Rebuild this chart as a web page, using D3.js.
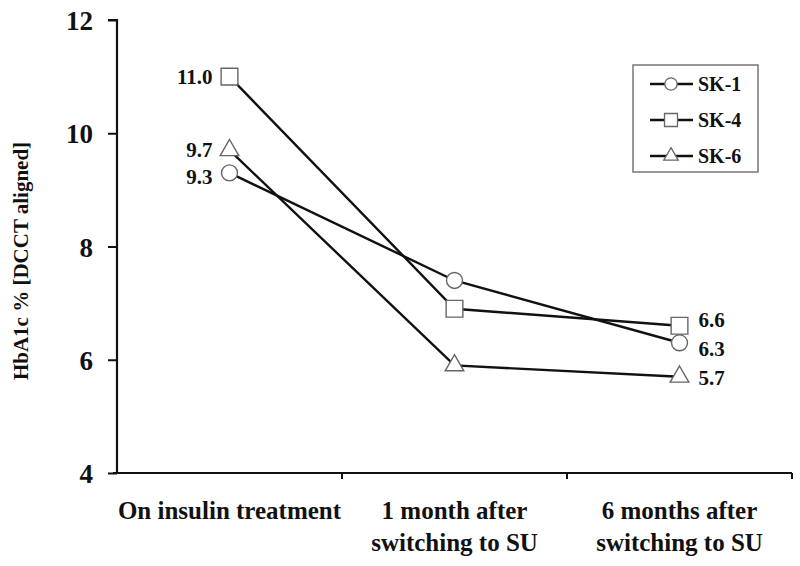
<!DOCTYPE html>
<html><head><meta charset="utf-8">
<script src="https://cdn.jsdelivr.net/npm/d3@7"></script>
<style>body{margin:0;background:#fff}svg{display:block}text{font-family:"Liberation Serif","Times New Roman",serif;font-weight:bold;fill:#111}</style>
</head><body><svg id="c" width="800" height="566"></svg>
<script>
const categories = ["On insulin treatment", "1 month after|switching to SU", "6 months after|switching to SU"];
const seriesNames = ["SK-1", "SK-4", "SK-6"];
const sk1 = [9.3, 7.4, 6.3];
const sk4 = [11.0, 6.9, 6.6];
const sk6 = [9.7, 5.9, 5.7];
const yTicks = [4, 6, 8, 10, 12];
const labelFirst = ["9.3", "11.0", "9.7"];
const labelLast = ["6.3", "6.6", "5.7"];
const series = [
  {name: seriesNames[0], values: sk1, sym: d3.symbolCircle, size: 200},
  {name: seriesNames[1], values: sk4, sym: d3.symbolSquare, size: 280},
  {name: seriesNames[2], values: sk6, sym: d3.symbolTriangle, size: 150}
];

const svg = d3.select("#c");
const x = d3.scaleBand().domain(categories).range([117, 792]);
const y = d3.scaleLinear().domain([4, 12]).range([473, 20]);
const cx = c => x(c) + x.bandwidth() / 2;

// axes
const yAxis = svg.append("g").attr("transform", "translate(117,0)")
  .call(d3.axisLeft(y).tickValues(yTicks).tickSize(9).tickPadding(15).tickFormat(d3.format("d")));
yAxis.select(".domain").attr("stroke", "#111").attr("stroke-width", 2.2).attr("d", "M-9,20H0V473");
yAxis.selectAll(".tick line").attr("stroke", "#111").attr("stroke-width", 2);
yAxis.selectAll(".tick text").style("font-size", "27px").attr("dy", "0.36em");

const xAxis = svg.append("g").attr("transform", "translate(0,473)");
xAxis.append("line").attr("x1", 113).attr("x2", 792).attr("stroke", "#111").attr("stroke-width", 2.2);
const bounds = [x(categories[1]), x(categories[2]), x.range()[1]];
xAxis.selectAll("line.t").data(bounds).join("line").attr("class", "t")
  .attr("x1", d => d).attr("x2", d => d).attr("y1", 0).attr("y2", 6)
  .attr("stroke", "#111").attr("stroke-width", 2);
categories.forEach(c => {
  const t = xAxis.append("text").attr("text-anchor", "middle").style("font-size", "25px");
  c.split("|").forEach((ln, i) => t.append("tspan").attr("x", cx(c)).attr("y", 46 + i * 32).text(ln));
});

svg.append("text").attr("transform", "translate(28,261) rotate(-90)").attr("text-anchor", "middle")
  .style("font-size", "21px").text("HbA1c % [DCCT aligned]");

// lines
const line = d3.line().x((d, i) => cx(categories[i])).y(d => y(d));
series.forEach(s => {
  svg.append("path").datum(s.values).attr("d", line).attr("fill", "none")
    .attr("stroke", "#111").attr("stroke-width", 2.4);
});
series.forEach(s => {
  svg.selectAll(null).data(s.values).join("path")
    .attr("transform", (d, i) => `translate(${cx(categories[i])},${y(d)})`)
    .attr("d", d3.symbol().type(s.sym).size(s.size))
    .attr("fill", "#fff").attr("stroke", "#666").attr("stroke-width", 1.4);
});

// value labels
const firstOff = [4, 0, -1];
series.forEach((s, k) => {
  svg.append("text").attr("x", cx(categories[0]) - 17).attr("y", y(s.values[0]) + firstOff[k])
    .attr("dy", "0.35em").attr("text-anchor", "end").style("font-size", "21px").text(labelFirst[k]);
});
const lastOff = [6, -6, 1];
series.forEach((s, k) => {
  svg.append("text").attr("x", cx(categories[2]) + 19).attr("y", y(s.values[2]) + lastOff[k])
    .attr("dy", "0.35em").attr("text-anchor", "start").style("font-size", "21px").text(labelLast[k]);
});

// legend
const lg = svg.append("g");
lg.append("rect").attr("x", 633).attr("y", 65).attr("width", 125).attr("height", 107)
  .attr("fill", "#fff").attr("stroke", "#777").attr("stroke-width", 1.5);
series.forEach((s, k) => {
  const yy = 84 + k * 36;
  lg.append("line").attr("x1", 650).attr("x2", 693).attr("y1", yy).attr("y2", yy)
    .attr("stroke", "#111").attr("stroke-width", 2.4);
  lg.append("path").attr("transform", `translate(671,${yy})`)
    .attr("d", d3.symbol().type(s.sym).size(s.size * 0.6))
    .attr("fill", "#fff").attr("stroke", "#666").attr("stroke-width", 1.3);
  lg.append("text").attr("x", 698).attr("y", yy).attr("dy", "0.36em")
    .style("font-size", "20px").text(s.name);
});
</script></body></html>
